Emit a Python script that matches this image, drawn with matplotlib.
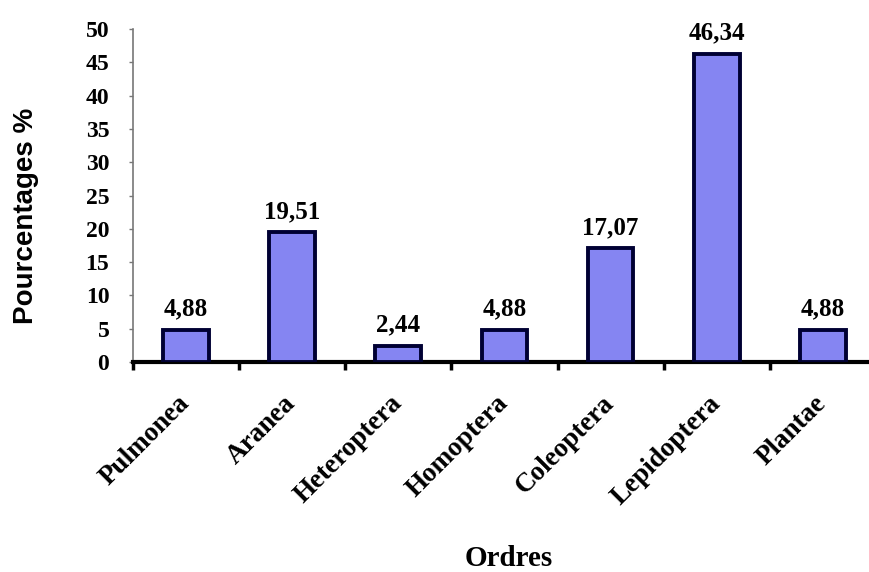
import numpy as np
import matplotlib.pyplot as plt
import matplotlib.transforms as mtransforms
from matplotlib.ticker import FixedLocator

# Répartition des proies par ordre
ordres = ['Pulmonea', 'Aranea', 'Heteroptera', 'Homoptera',
          'Coleoptera', 'Lepidoptera', 'Plantae']
pourcentages = [4.88, 19.51, 2.44, 4.88, 17.07, 46.34, 4.88]
labels = ['4,88', '19,51', '2,44', '4,88', '17,07', '46,34', '4,88']
yticks = [0, 5, 10, 15, 20, 25, 30, 35, 40, 45, 50]

serif = 'Liberation Serif'
sans = 'Liberation Sans'

fig = plt.figure(figsize=(8.69, 5.72), dpi=100)
ax = fig.add_axes([0.153, 0.367, 0.855, 0.582])

x = np.arange(len(ordres))
ax.bar(x, pourcentages, width=0.43, color='#8585f2',
       edgecolor='#000033', linewidth=2.8, zorder=3)

for xi, v, lab in zip(x, pourcentages, labels):
    ax.text(xi, v + 1.4, lab, ha='center', va='bottom',
            fontfamily=serif, fontweight='bold', fontsize=18)

ax.set_xlim(-0.5, len(ordres) - 0.5)
ax.set_ylim(0, 50)
ax.set_yticks(yticks)
ax.set_yticklabels([str(t) for t in yticks], fontfamily=serif,
                   fontweight='bold', fontsize=17)

# ticks between categories, labels at category centres
ax.xaxis.set_major_locator(FixedLocator(np.arange(len(ordres)) - 0.5))
ax.set_xticklabels([], minor=False)
ax.set_xticks(x, minor=True)
ax.set_xticklabels(ordres, minor=True, rotation=45, ha='right',
                   va='center', rotation_mode='anchor', fontfamily=serif,
                   fontweight='bold', fontsize=19.5)
shift = mtransforms.ScaledTranslation(6 / 72, 0, fig.dpi_scale_trans)
for t in ax.get_xticklabels(minor=True):
    t.set_transform(t.get_transform() + shift)
ax.tick_params(axis='x', which='minor', length=0, pad=27)
ax.tick_params(axis='x', which='major', direction='out', length=6,
               width=2.5, color='black')
ax.tick_params(axis='y', direction='out', length=3, width=1,
               color='#777777', pad=14)

for side in ('top', 'right'):
    ax.spines[side].set_visible(False)
ax.spines['left'].set_color('#777777')
ax.spines['left'].set_linewidth(1.2)
ax.spines['bottom'].set_linewidth(3)
ax.spines['bottom'].set_color('black')

ax.set_ylabel('Pourcentages %', fontfamily=sans, fontweight='bold',
              fontsize=20)
ax.yaxis.set_label_coords(-0.126, 0.44)
ax.set_xlabel('Ordres', fontfamily=serif, fontweight='bold', fontsize=21)
ax.xaxis.set_label_coords(0.506, -0.55)

fig.savefig('out.png', dpi=100)
